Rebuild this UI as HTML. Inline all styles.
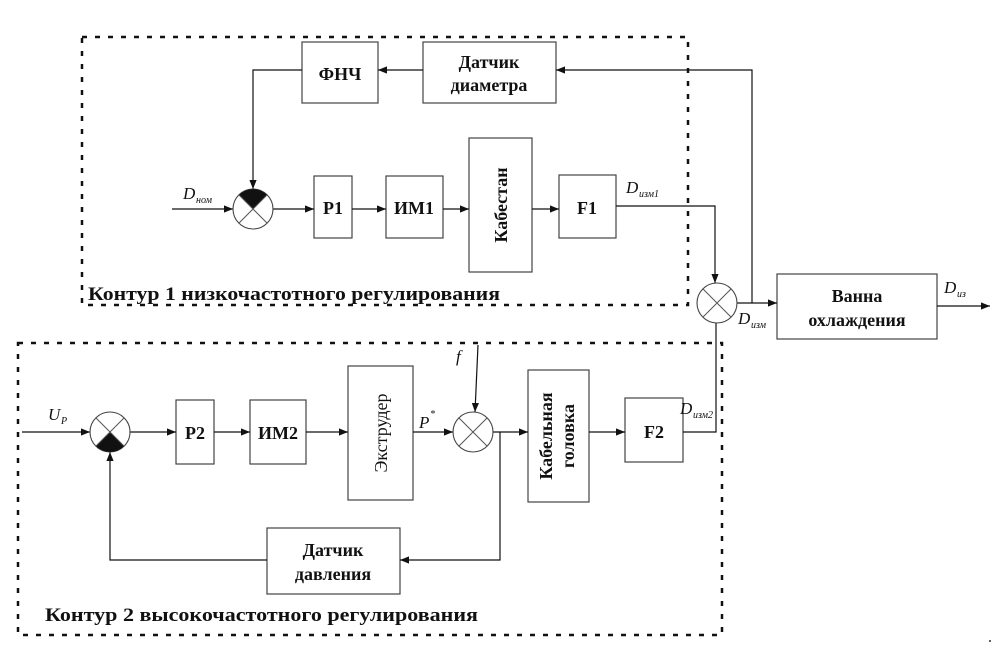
<!DOCTYPE html>
<html><head><meta charset="utf-8"><style>
html,body{margin:0;padding:0;background:#fff;}
svg{display:block}
text{font-family:"Liberation Serif","DejaVu Serif",serif;fill:#111}
.b{font-weight:bold;font-size:18px}
.i{font-style:italic;font-size:17px}
.s{font-style:italic;font-size:10px}
</style></head><body>
<svg width="994" height="649" viewBox="0 0 994 649" xmlns="http://www.w3.org/2000/svg">
<defs>
<marker id="a" viewBox="0 0 10 10" refX="10" refY="5" markerWidth="9" markerHeight="9" markerUnits="userSpaceOnUse" orient="auto"><path d="M0,1 L10,5 L0,9 z" fill="#111"/></marker>
</defs>
<g fill="none" stroke="#111" stroke-width="2.5" stroke-dasharray="5,8">
<rect x="82" y="37" width="606" height="268"/>
<rect x="18" y="343" width="704" height="292"/>
</g>
<g fill="#fff" stroke="#444" stroke-width="1.2">
<rect x="302" y="42" width="76" height="61"/>
<rect x="423" y="42" width="133" height="61"/>
<rect x="314" y="176" width="38" height="62"/>
<rect x="386" y="176" width="57" height="62"/>
<rect x="469" y="138" width="63" height="134"/>
<rect x="559" y="175" width="57" height="63"/>
<rect x="777" y="274" width="160" height="65"/>
<rect x="176" y="400" width="38" height="64"/>
<rect x="250" y="400" width="56" height="64"/>
<rect x="348" y="366" width="65" height="134"/>
<rect x="528" y="370" width="61" height="132"/>
<rect x="625" y="398" width="58" height="64"/>
<rect x="267" y="528" width="133" height="66"/>
</g>
<g class="b" text-anchor="middle">
<text x="340" y="80">ФНЧ</text>
<text x="489" y="68">Датчик</text>
<text x="489" y="91">диаметра</text>
<text x="333" y="214">Р1</text>
<text x="414" y="214">ИМ1</text>
<text x="587" y="214">F1</text>
<text transform="translate(507,205) rotate(-90)">Кабестан</text>
<text x="857" y="302">Ванна</text>
<text x="857" y="326">охлаждения</text>
<text x="195" y="439">Р2</text>
<text x="278" y="439">ИМ2</text>
<text x="654" y="438">F2</text>
<text transform="translate(387,433) rotate(-90)" style="font-weight:normal">Экструдер</text>
<text transform="translate(552,436) rotate(-90)">Кабельная</text>
<text transform="translate(574,436) rotate(-90)">головка</text>
<text x="333" y="556">Датчик</text>
<text x="333" y="580">давления</text>
</g>
<text class="b" x="88" y="300" style="font-size:19px" textLength="412" lengthAdjust="spacingAndGlyphs">Контур 1 низкочастотного регулирования</text>
<text class="b" x="45" y="621" style="font-size:19px" textLength="433" lengthAdjust="spacingAndGlyphs">Контур 2 высокочастотного регулирования</text>
<g stroke="#111" stroke-width="1.2" fill="none">
<line x1="172" y1="209" x2="233" y2="209" marker-end="url(#a)"/>
<polyline points="302,70 253,70 253,189" marker-end="url(#a)"/>
<line x1="423" y1="70" x2="378" y2="70" marker-end="url(#a)"/>
<polyline points="752,303 752,70 556,70" marker-end="url(#a)"/>
<line x1="273" y1="209" x2="314" y2="209" marker-end="url(#a)"/>
<line x1="352" y1="209" x2="386" y2="209" marker-end="url(#a)"/>
<line x1="443" y1="209" x2="469" y2="209" marker-end="url(#a)"/>
<line x1="532" y1="209" x2="559" y2="209" marker-end="url(#a)"/>
<polyline points="616,206 715,206 715,283" marker-end="url(#a)"/>
<line x1="737" y1="303" x2="777" y2="303" marker-end="url(#a)"/>
<line x1="937" y1="306" x2="990" y2="306" marker-end="url(#a)"/>
<polyline points="683,432 716,432 716,323"/>
<line x1="22" y1="432" x2="90" y2="432" marker-end="url(#a)"/>
<line x1="130" y1="432" x2="176" y2="432" marker-end="url(#a)"/>
<line x1="214" y1="432" x2="250" y2="432" marker-end="url(#a)"/>
<line x1="306" y1="432" x2="348" y2="432" marker-end="url(#a)"/>
<line x1="413" y1="432" x2="453" y2="432" marker-end="url(#a)"/>
<line x1="478" y1="345" x2="475" y2="412" marker-end="url(#a)"/>
<line x1="493" y1="432" x2="528" y2="432" marker-end="url(#a)"/>
<line x1="589" y1="432" x2="625" y2="432" marker-end="url(#a)"/>
<polyline points="500,432 500,560 400,560" marker-end="url(#a)"/>
<polyline points="267,560 110,560 110,452" marker-end="url(#a)"/>
</g>
<g stroke="#444" stroke-width="1.1" fill="#fff">
<circle cx="253" cy="209" r="20"/>
<circle cx="717" cy="303" r="20"/>
<circle cx="110" cy="432" r="20"/>
<circle cx="473" cy="432" r="20"/>
</g>
<path d="M253,209 L238.9,194.9 A20,20 0 0 1 267.1,194.9 Z" fill="#111"/>
<path d="M110,432 L95.9,446.1 A20,20 0 0 0 124.1,446.1 Z" fill="#111"/>
<g stroke="#555" stroke-width="1">
<path d="M238.9,194.9 L267.1,223.1 M267.1,194.9 L238.9,223.1"/>
<path d="M702.9,288.9 L731.1,317.1 M731.1,288.9 L702.9,317.1"/>
<path d="M95.9,417.9 L124.1,446.1 M124.1,417.9 L95.9,446.1"/>
<path d="M458.9,417.9 L487.1,446.1 M487.1,417.9 L458.9,446.1"/>
</g>
<text class="i" x="183" y="199">D</text><text class="s" x="196" y="203">ном</text>
<text class="i" x="626" y="193">D</text><text class="s" x="639" y="197">изм1</text>
<text class="i" x="738" y="324">D</text><text class="s" x="751" y="328">изм</text>
<text class="i" x="944" y="293">D</text><text class="s" x="957" y="297">из</text>
<text class="i" x="48" y="420">U</text><text class="s" x="61" y="424">P</text>
<text class="i" x="419" y="428">P</text><text class="s" x="430" y="417">*</text>
<text class="i" x="456" y="362">f</text>
<text class="i" x="680" y="414">D</text><text class="s" x="693" y="418">изм2</text>
<circle cx="990" cy="641" r="1" fill="#333"/>
</svg>
</body></html>
